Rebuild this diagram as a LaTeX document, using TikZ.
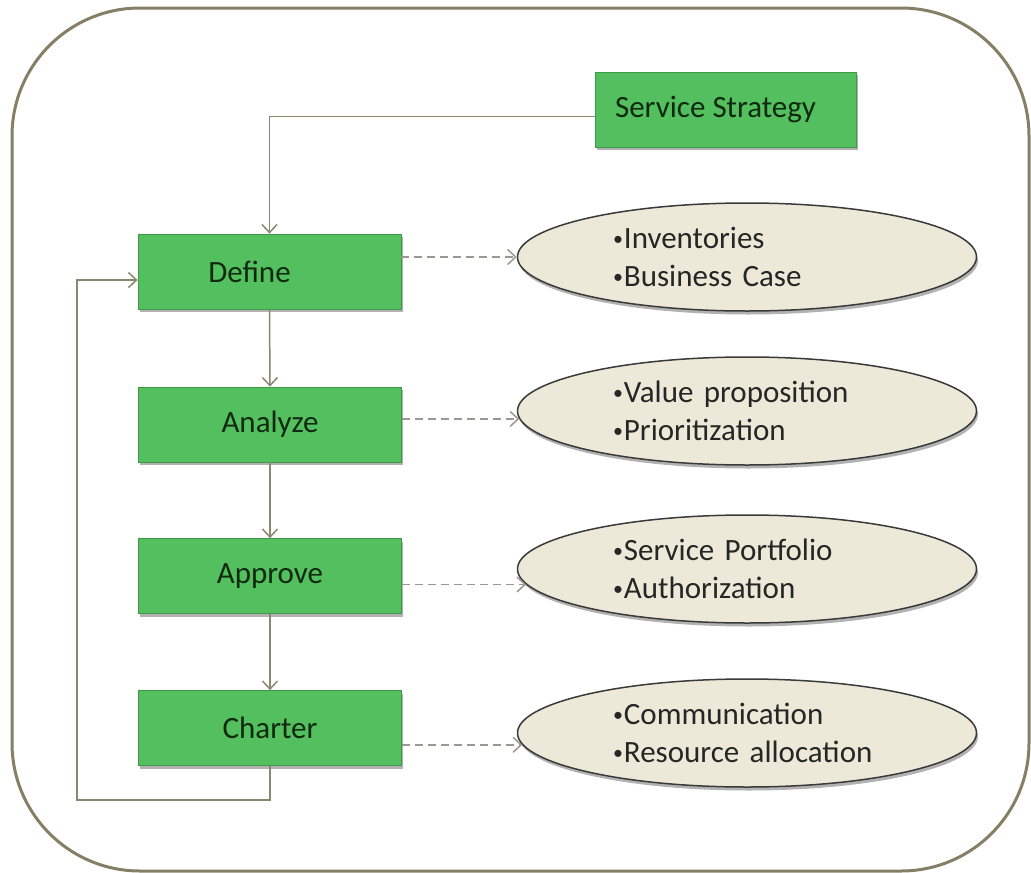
\documentclass[tikz,border=0pt]{standalone}
\usepackage{fontspec}
\setmainfont{Carlito}
\usetikzlibrary{shapes.geometric,shadows,arrows.meta}
\definecolor{boxgreen}{HTML}{53BF5F}
\definecolor{boxedge}{HTML}{3E9A48}
\definecolor{boxtext}{HTML}{0F2A0F}
\definecolor{notefill}{HTML}{ECE9D8}
\definecolor{noteedge}{HTML}{3A3A3A}
\definecolor{framecol}{HTML}{857F66}
\definecolor{conncol}{HTML}{8A8670}
\definecolor{dashcol}{HTML}{9A9890}
\newcommand{\smallbul}{\raisebox{3pt}{\fontsize{20}{20}\selectfont\textbullet}\hspace{1pt}}
\begin{document}
\begin{tikzpicture}[x=1pt,y=-1pt,
  stepbox/.style={rectangle, minimum width=263pt, minimum height=75pt, inner sep=0pt,
    fill=boxgreen, draw=boxedge, line width=0.8pt, text=boxtext,
    font=\fontsize{31}{38}\selectfont,
    drop shadow={shadow xshift=1.5pt, shadow yshift=-3pt, fill=black, opacity=0.3}},
  note/.style={ellipse, minimum width=459pt, minimum height=108pt, inner sep=0pt,
    fill=notefill, draw=noteedge, line width=1.5pt, text width=268pt, align=left,
    text=black!85, font=\fontsize{31}{38}\selectfont,
    drop shadow={shadow xshift=1.5pt, shadow yshift=-3.5pt, fill=black, opacity=0.3}},
  conn/.style={draw=conncol, line width=1.5pt, -{Straight Barb[length=8pt,width=15pt]}},
  dasharrow/.style={conn, draw=dashcol, dash pattern=on 8pt off 5pt}]
\useasboundingbox (0,0) rectangle (1031,873);
\draw[draw=framecol, line width=3pt, rounded corners=128pt] (12,8) rectangle (1029,871);

\node[stepbox, minimum width=261pt] (ss) at (725.5,109.5) {\hspace*{-20pt}Service Strategy};
\node[stepbox] (define)  at (269.5,271.5) {\hspace*{-40pt}Define};
\node[stepbox] (analyze) at (270,424.5) {Analyze};
\node[stepbox] (approve) at (270,576) {Approve};
\node[stepbox] (charter) at (270,728) {Charter};

\node[note] (e1) at (747,257) {\smallbul Inventories\\\smallbul Business Case};
\node[note] (e2) at (747,411) {\smallbul Value proposition\\\smallbul Prioritization};
\node[note] (e3) at (747,569) {\smallbul Service Portfolio\\\smallbul Authorization};
\node[note] (e4) at (747,733) {\smallbul Communication\\\smallbul Resource allocation};

\coordinate (lp) at (77,800);

\draw[conn] ([yshift=-7pt]ss.west) -| (define.north);
\draw[conn] (define.south) -- (analyze.north);
\draw[conn] (analyze.south) -- (approve.north);
\draw[conn] (approve.south) -- (charter.north);
\draw[conn] (charter.south) |- (lp) |- ([yshift=-8.5pt]define.west);

\draw[dasharrow] (define.east |- e1.180.5) -- (e1.180.5);
\draw[dasharrow] (analyze.east |- e2.182.5) -- (e2.182.5);
\draw[dasharrow] (approve.east |- e3.184) -- (e3.184);
\draw[dasharrow] (charter.east |- e4.183.6) -- (e4.183.6);
\end{tikzpicture}
\end{document}
